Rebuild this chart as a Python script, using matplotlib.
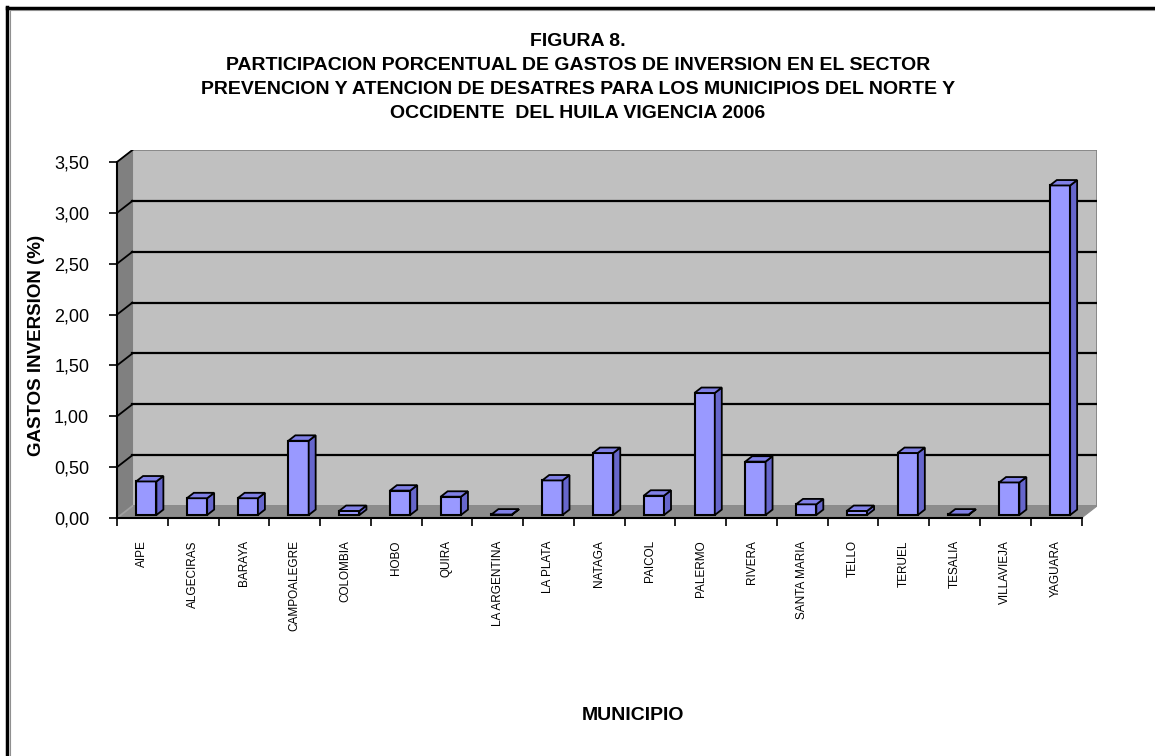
import numpy as np
import matplotlib.pyplot as plt
from matplotlib.patches import Polygon

plt.rcParams["font.family"] = ["Liberation Sans", "DejaVu Sans"]

# Data
municipios = [
    "AIPE", "ALGECIRAS", "BARAYA", "CAMPOALEGRE", "COLOMBIA", "HOBO", "QUIRA",
    "LA ARGENTINA", "LA PLATA", "NATAGA", "PAICOL", "PALERMO", "RIVERA",
    "SANTA MARIA", "TELLO", "TERUEL", "TESALIA", "VILLAVIEJA", "YAGUARA",
]
gastos = [0.33, 0.165, 0.165, 0.73, 0.04, 0.24, 0.18, 0.005, 0.34, 0.61,
          0.19, 1.20, 0.525, 0.105, 0.04, 0.61, 0.005, 0.32, 3.24]
y_ticks = [0.0, 0.5, 1.0, 1.5, 2.0, 2.5, 3.0, 3.5]

W, H = 1155, 756
fig = plt.figure(figsize=(W / 100, H / 100), dpi=100)

# axes in pixel terms: front-left corner (117, 518), back wall top 150, right 1097
ax = fig.add_axes([117 / W, (H - 518) / H, 980 / W, 368 / H])
n = len(municipios)
ymax = 3.5
dx, dy = 0.305, 0.118  # depth offset of the back wall, in data units
ax.set_xlim(0, n + dx)
ax.set_ylim(0, ymax + dy)
ax.patch.set_visible(False)

# back wall, floor and left side wall
ax.add_patch(Polygon([(dx, dy), (n + dx, dy), (n + dx, ymax + dy), (dx, ymax + dy)],
                     closed=True, facecolor="#c0c0c0", edgecolor="#808080", lw=1.2, zorder=1))
ax.add_patch(Polygon([(0, 0), (n, 0), (n + dx, dy), (dx, dy)],
                     closed=True, facecolor="#8c8c8c", edgecolor="#8c8c8c", lw=0.8, zorder=1))
ax.add_patch(Polygon([(0, 0), (dx, dy), (dx, ymax + dy), (0, ymax)],
                     closed=True, facecolor="#808080", edgecolor="#808080", lw=0.8, zorder=1))

# gridlines on the back wall and the side wall
for v in y_ticks:
    col = "#a0a0a0" if v == 0 else "black"
    if v > 0 and v < ymax:
        ax.plot([dx, n + dx], [v + dy, v + dy], color="black", lw=1.6, zorder=2)
    ax.plot([0, dx], [v, v + dy], color=col, lw=1.3, zorder=2)

# bars with a fake 3D look
bw = 0.4
b_off = 0.25  # depth position of the front face of the bars
b_dep = 0.45  # depth of the bars
x0 = np.arange(n) + 0.5 - bw / 2 + b_off * dx
y0 = b_off * dy
ax.bar(x0, gastos, width=bw, bottom=y0, align="edge", color="#9999ff",
       edgecolor="black", linewidth=1.5, zorder=3)
for xi, v in zip(x0, gastos):
    ox, oy = b_dep * dx, b_dep * dy
    top = [(xi, y0 + v), (xi + bw, y0 + v), (xi + bw + ox, y0 + v + oy), (xi + ox, y0 + v + oy)]
    side = [(xi + bw, y0), (xi + bw + ox, y0 + oy), (xi + bw + ox, y0 + v + oy), (xi + bw, y0 + v)]
    ax.add_patch(Polygon(side, closed=True, facecolor="#6666cc", edgecolor="black", lw=1.3, zorder=3))
    ax.add_patch(Polygon(top, closed=True, facecolor="#8080e6", edgecolor="black", lw=1.3, zorder=3))

# front axes
for s in ["top", "right"]:
    ax.spines[s].set_visible(False)
ax.spines["left"].set_bounds(0, ymax)
ax.spines["bottom"].set_bounds(0, n)
ax.spines["left"].set_linewidth(1.5)
ax.spines["bottom"].set_linewidth(1.5)
ax.spines["left"].set_zorder(4)
ax.spines["bottom"].set_zorder(4)

ax.set_yticks(y_ticks)
ax.set_yticklabels([f"{v:.2f}".replace(".", ",") for v in y_ticks], fontsize=13)
ax.tick_params(axis="y", length=6, width=1.2, pad=14)

ax.set_xticks(np.arange(n + 1))
ax.set_xticklabels([])
ax.set_xticks(np.arange(n) + 0.5, minor=True)
ax.set_xticklabels(municipios, minor=True, rotation=90, fontsize=8.5, va="top")
ax.tick_params(axis="x", which="major", length=6, width=1.2)
ax.tick_params(axis="x", which="minor", length=0, pad=16)

ax.set_ylabel("GASTOS INVERSION (%)", fontsize=13.5, fontweight="bold", labelpad=3)
ax.yaxis.set_label_coords(-72 / 980, (518 - 345) / 368)

# title and x label
title = ["FIGURA 8.",
         "PARTICIPACION PORCENTUAL DE GASTOS DE INVERSION EN EL SECTOR",
         "PREVENCION Y ATENCION DE DESATRES PARA LOS MUNICIPIOS DEL NORTE Y",
         "OCCIDENTE  DEL HUILA VIGENCIA 2006"]
for i, line in enumerate(title):
    fig.text(578 / W, 1 - (41 + 24 * i) / H, line, ha="center", va="center",
             fontsize=14, fontweight="bold")
fig.text(633 / W, 1 - 716 / H, "MUNICIPIO", ha="center", va="center",
         fontsize=14, fontweight="bold")

# frame around the picture (left and top only visible)
fig.add_artist(plt.Line2D([7 / W, 7 / W], [0, 1 - 7 / H], color="black", lw=2.5))
fig.add_artist(plt.Line2D([9.5 / W, 9.5 / W], [0, 1 - 9.5 / H], color="#909090", lw=0.8))
fig.add_artist(plt.Line2D([7 / W, 1], [1 - 8 / H, 1 - 8 / H], color="black", lw=2.5))
fig.add_artist(plt.Line2D([9.5 / W, 1], [1 - 10 / H, 1 - 10 / H], color="#909090", lw=0.8))

fig.savefig("out.png", dpi=100)
